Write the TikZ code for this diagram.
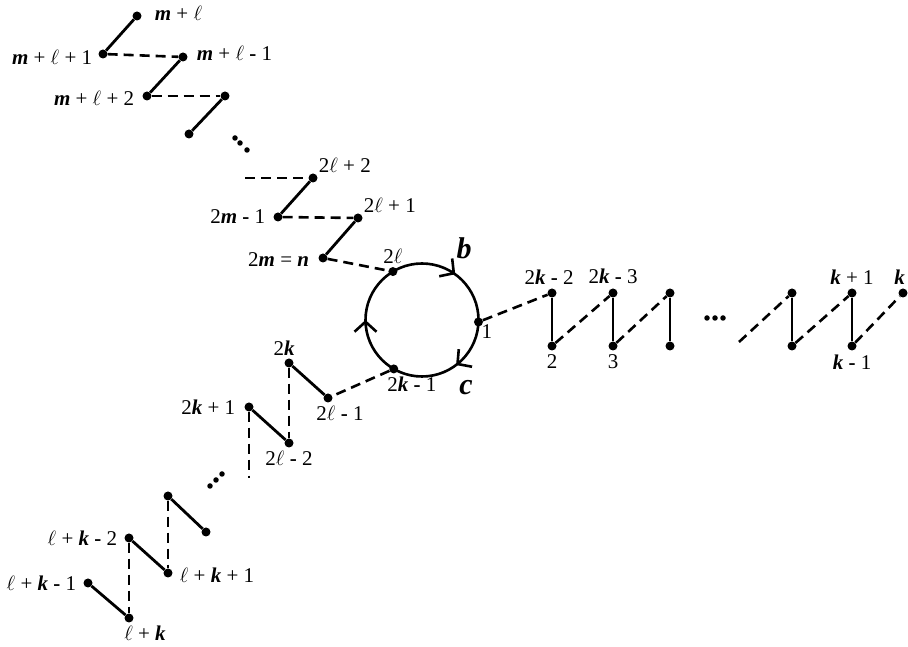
\documentclass[tikz,border=0pt]{standalone}
\usepackage{fontspec}
\setmainfont{Liberation Serif}
\usetikzlibrary{arrows.meta,decorations.markings}

\newcommand\vb[1]{\textbf{\textit{#1}}}
\newcommand\el{\ensuremath{\ell}}
\newcommand\mn{\textbf{-}}

\tikzset{
  dot/.style={circle,fill,inner sep=0pt,minimum size=9pt},
  sdot/.style={circle,fill,inner sep=0pt,minimum size=5.5pt},
  rung/.style={line width=2.8pt},
  link/.style={line width=2.6pt,dash pattern=on 10pt off 6pt},
  lbl/.style={font=\fontsize{21}{24}\selectfont,inner sep=1pt},
  every label/.style={lbl},
  big/.style={font=\fontsize{30}{32}\selectfont\bfseries\itshape},
  cycle arrows/.style={postaction={decorate},decoration={markings,
    mark=at position 0.15 with {\arrowreversed{Straight Barb[length=10pt,width=22pt]}},
    mark=at position 0.5 with {\arrowreversed{Straight Barb[length=10pt,width=22pt]}},
    mark=at position 0.853 with {\arrowreversed{Straight Barb[length=10pt,width=22pt]}}}}
}

\begin{document}
\begin{tikzpicture}[x=1pt,y=1pt,label distance=5pt]
  \useasboundingbox (0,0) rectangle (908,647);

  % upper chain
  \node[dot,label={[label distance=12pt,yshift=3pt]right:\vb{m} + \el}] (ml) at (137,631) {};
  \node[dot,label={[yshift=-3pt]left:\vb{m} + \el{} + 1}] (mlA) at (103,593) {};
  \node[dot,label={[label distance=8pt,yshift=4pt]right:\vb{m} + \el{} \mn{} 1}] (mlB) at (183,590) {};
  \node[dot,label={[label distance=7pt,yshift=-2pt]left:\vb{m} + \el{} + 2}] (mlC) at (147,551) {};
  \node[dot] (u1) at (225,551) {};
  \node[dot] (u2) at (189,513) {};
  \node[sdot] (e1) at (235,509) {};
  \node[sdot] (e2) at (240,504) {};
  \node[sdot] (e3) at (247,497) {};
  \coordinate (f1) at (245,469);
  \node[dot,label={[label distance=2pt]above right:2\el{} + 2}] (lA) at (313,469) {};
  \node[dot,label={[label distance=7pt]left:2\vb{m} \mn{} 1}] (mA) at (278,430) {};
  \node[dot,label={[label distance=2pt]above right:2\el{} + 1}] (lB) at (358,429) {};
  \node[dot,label={[label distance=8pt,yshift=-2pt]left:2\vb{m} = \vb{n}}] (nn) at (323,389) {};

  \draw[rung] (mlA) -- (ml);
  \draw[link] (mlA) -- (mlB);
  \draw[rung] (mlC) -- (mlB);
  \draw[link] (mlC) -- (u1);
  \draw[rung] (u2) -- (u1);
  \draw[link] (f1) -- (lA);
  \draw[rung] (mA) -- (lA);
  \draw[link] (mA) -- (lB);
  \draw[rung] (nn) -- (lB);

  % cycle
  \coordinate (o) at (422,327);
  \draw[line width=2.6pt,cycle arrows] (o) circle[radius=56.5];
  \node[dot,label={[label distance=2pt]above:2\el}] (cl) at ([shift={(121:56.5)}]o) {};
  \node[dot,label={[label distance=-2pt]below right:1}] (c1) at ([shift={(-2:56.5)}]o) {};
  \node[dot,label={[xshift=18pt,label distance=2pt]below:2\vb{k} \mn{} 1}] (ck) at ([shift={(240:56.5)}]o) {};
  \node[big] (b) at (464,399) {b};
  \node[big] (c) at (466,259) {c};
  \draw[link] (nn) -- (cl);

  % right chain
  \node[dot,label={[label distance=3pt,xshift=-3pt]above:2\vb{k} \mn{} 2}] (rA) at (552,354) {};
  \node[dot,label={[label distance=3pt]below:2}] (rB) at (552,301) {};
  \node[dot,label={[label distance=3pt]above:2\vb{k} \mn{} 3}] (sA) at (613,354) {};
  \node[dot,label={[label distance=3pt]below:3}] (sB) at (613,301) {};
  \node[dot] (tA) at (670,354) {};
  \node[dot] (tB) at (670,301) {};
  \node[sdot] (d1) at (707,329) {};
  \node[sdot] (d2) at (715,329) {};
  \node[sdot] (d3) at (723,329) {};
  \coordinate (f2) at (739,305);
  \node[dot] (vA) at (792,354) {};
  \node[dot] (vB) at (792,301) {};
  \node[dot,label={[label distance=3pt]above:\vb{k} + 1}] (wA) at (852,354) {};
  \node[dot,label={[label distance=3pt]below:\vb{k} \mn{} 1}] (wB) at (852,301) {};
  \node[dot,label={[label distance=3pt,anchor=south east,xshift=3pt]above:\vb{k}}] (zA) at (903,354) {};

  \draw[link] (c1) -- (rA);
  \draw[rung] (rA) -- (rB);
  \draw[link] (rB) -- (sA);
  \draw[rung] (sA) -- (sB);
  \draw[link] (sB) -- (tA);
  \draw[rung] (tA) -- (tB);
  \draw[link] (f2) -- (vA);
  \draw[rung] (vA) -- (vB);
  \draw[link] (vB) -- (wA);
  \draw[rung] (wA) -- (wB);
  \draw[link] (wB) -- (zA);

  % lower chain
  \node[dot,label={[xshift=12pt,label distance=2pt]below:2\el{} \mn{} 1}] (a1) at (328,249) {};
  \node[dot,label={[xshift=-5pt,label distance=2pt]above:2\vb{k}}] (a2) at (289,284) {};
  \node[dot,label={[label distance=2pt]below:2\el{} \mn{} 2}] (a3) at (289,204) {};
  \node[dot,label={[label distance=8pt]left:2\vb{k} + 1}] (a4) at (249,240) {};
  \coordinate (f3) at (249,169);
  \node[sdot] (g1) at (210,161) {};
  \node[sdot] (g2) at (216,167) {};
  \node[sdot] (g3) at (222,173) {};
  \node[dot] (b1) at (168,151) {};
  \node[dot] (b2) at (206,115) {};
  \node[dot,label={[label distance=6pt,yshift=-2pt]right:\el{} + \vb{k} + 1}] (b3) at (168,74) {};
  \node[dot,label={[label distance=6pt]left:\el{} + \vb{k} \mn{} 2}] (b4) at (129,109) {};
  \node[dot,label={[xshift=16pt,label distance=2pt]below:\el{} + \vb{k}}] (b5) at (129,29) {};
  \node[dot,label={[label distance=6pt]left:\el{} + \vb{k} \mn{} 1}] (b6) at (88,64) {};

  \draw[link] (ck) -- (a1);
  \draw[rung] (a2) -- (a1);
  \draw[link] (a2) -- (a3);
  \draw[rung] (a4) -- (a3);
  \draw[link] (a4) -- (f3);
  \draw[rung] (b1) -- (b2);
  \draw[link] (b1) -- (b3);
  \draw[rung] (b4) -- (b3);
  \draw[link] (b4) -- (b5);
  \draw[rung] (b6) -- (b5);
\end{tikzpicture}
\end{document}
